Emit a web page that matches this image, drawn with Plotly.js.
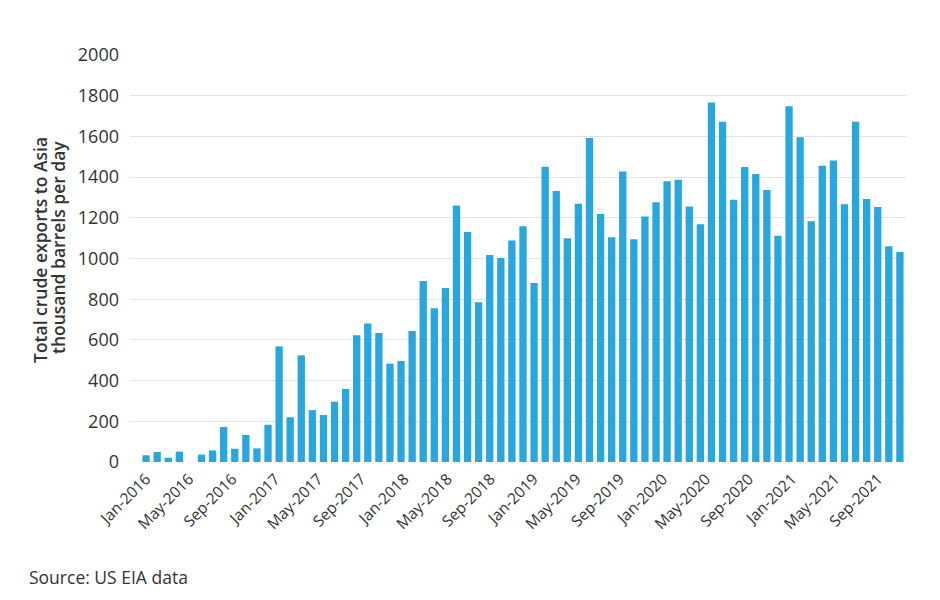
<!DOCTYPE html>
<html>
<head>
<meta charset="utf-8">
<script src="https://cdn.plot.ly/plotly-3.0.1.min.js"></script>
<style>
  html, body { margin: 0; padding: 0; background: #ffffff; }
  #chart { width: 940px; height: 600px; }
</style>
</head>
<body>
<div id="chart"></div>
<script>
// Monthly categories (Jan-2016 .. Sep-2021)
const months = [
  "Jan-2016","Feb-2016","Mar-2016","Apr-2016","May-2016","Jun-2016","Jul-2016","Aug-2016","Sep-2016","Oct-2016","Nov-2016","Dec-2016",
  "Jan-2017","Feb-2017","Mar-2017","Apr-2017","May-2017","Jun-2017","Jul-2017","Aug-2017","Sep-2017","Oct-2017","Nov-2017","Dec-2017",
  "Jan-2018","Feb-2018","Mar-2018","Apr-2018","May-2018","Jun-2018","Jul-2018","Aug-2018","Sep-2018","Oct-2018","Nov-2018","Dec-2018",
  "Jan-2019","Feb-2019","Mar-2019","Apr-2019","May-2019","Jun-2019","Jul-2019","Aug-2019","Sep-2019","Oct-2019","Nov-2019","Dec-2019",
  "Jan-2020","Feb-2020","Mar-2020","Apr-2020","May-2020","Jun-2020","Jul-2020","Aug-2020","Sep-2020","Oct-2020","Nov-2020","Dec-2020",
  "Jan-2021","Feb-2021","Mar-2021","Apr-2021","May-2021","Jun-2021","Jul-2021","Aug-2021","Sep-2021"
];

// Total crude exports to Asia, thousand barrels per day
const exportsToAsia = [
  33, 49, 21, 51, 0, 36, 57, 172, 65, 133, 67, 183,
  568, 220, 524, 255, 231, 296, 359, 623, 681, 634, 483, 496,
  644, 889, 755, 855, 1260, 1130, 785, 1017, 1002, 1089, 1158, 880,
  1451, 1332, 1099, 1269, 1592, 1219, 1104, 1427, 1094, 1207, 1276, 1379,
  1387, 1256, 1168, 1766, 1672, 1289, 1450, 1415, 1337, 1112, 1748, 1596,
  1183, 1456, 1481, 1266, 1672, 1292, 1253, 1060, 1032
];

// Labelled ticks on the x axis
const tickLabels = [
  "Jan-2016","May-2016","Sep-2016","Jan-2017","May-2017","Sep-2017",
  "Jan-2018","May-2018","Sep-2018","Jan-2019","May-2019","Sep-2019",
  "Jan-2020","May-2020","Sep-2020","Jan-2021","May-2021","Sep-2021"
];

const yTickValues = [0, 200, 400, 600, 800, 1000, 1200, 1400, 1600, 1800, 2000];

const yTitleLines = ["Total crude exports to Asia", "thousand barrels per day"];
const sourceNote = "Source: US EIA data";

const FONT = "'Open Sans', Lato, sans-serif";
const TEXT = "#333333";

// Layout constant: in the original picture the rotated month labels are spaced
// slightly tighter than the bars; this factor reproduces that placement.
const LABEL_SPACING = 0.971;

const monthIndex = months.map((m, i) => i);

const trace = {
  type: "bar",
  x: monthIndex,
  y: exportsToAsia,
  customdata: months,
  textposition: "none",
  hovertemplate: "%{customdata}: %{y}<extra></extra>",
  marker: { color: "#28a6de" }
};

// plot area in pixels (for placing the paper-referenced annotations)
const PL = 130, PR = 906, PT = 55, PB = 462;
const px = v => (v - PL) / (PR - PL);
const py = v => (PB - v) / (PB - PT);

const layout = {
  width: 940,
  height: 600,
  margin: { l: PL, r: 940 - PR, t: PT, b: 600 - PB },
  paper_bgcolor: "#ffffff",
  plot_bgcolor: "#ffffff",
  font: { family: FONT, color: TEXT },
  showlegend: false,
  bargap: 0.34,
  xaxis: {
    type: "linear",
    range: [-1.45, 68.55],
    tickmode: "array",
    tickvals: tickLabels.map(l => months.indexOf(l) * LABEL_SPACING),
    ticktext: tickLabels,
    tickangle: -45,
    tickfont: { family: FONT, size: 15.5, color: TEXT },
    ticks: "",
    ticklabelstandoff: 4,
    showgrid: false,
    showline: false,
    zeroline: false
  },
  yaxis: {
    range: [0, 2000],
    tickmode: "array",
    tickvals: yTickValues,
    ticktext: yTickValues.map(String),
    tickfont: { family: FONT, size: 18, color: TEXT },
    ticks: "",
    ticklabelstandoff: 10,
    showgrid: true,
    gridcolor: "#e3e3e3",
    gridwidth: 1,
    zeroline: false,
    showline: false
  },
  annotations: [
    {
      text: yTitleLines[0],
      xref: "paper", yref: "paper",
      x: px(40), y: py(250),
      xanchor: "center", yanchor: "middle",
      textangle: -90,
      showarrow: false,
      font: { family: FONT, size: 17.5, color: TEXT, weight: 600 }
    },
    {
      text: yTitleLines[1],
      xref: "paper", yref: "paper",
      x: px(58), y: py(248),
      xanchor: "center", yanchor: "middle",
      textangle: -90,
      showarrow: false,
      font: { family: FONT, size: 17.5, color: TEXT, weight: 600 }
    },
    {
      text: sourceNote,
      xref: "paper", yref: "paper",
      x: px(27), y: py(577),
      xanchor: "left", yanchor: "middle",
      showarrow: false,
      font: { family: FONT, size: 17.5, color: TEXT }
    }
  ]
};

Plotly.newPlot("chart", [trace], layout, { displayModeBar: false, staticPlot: true });
</script>
</body>
</html>
